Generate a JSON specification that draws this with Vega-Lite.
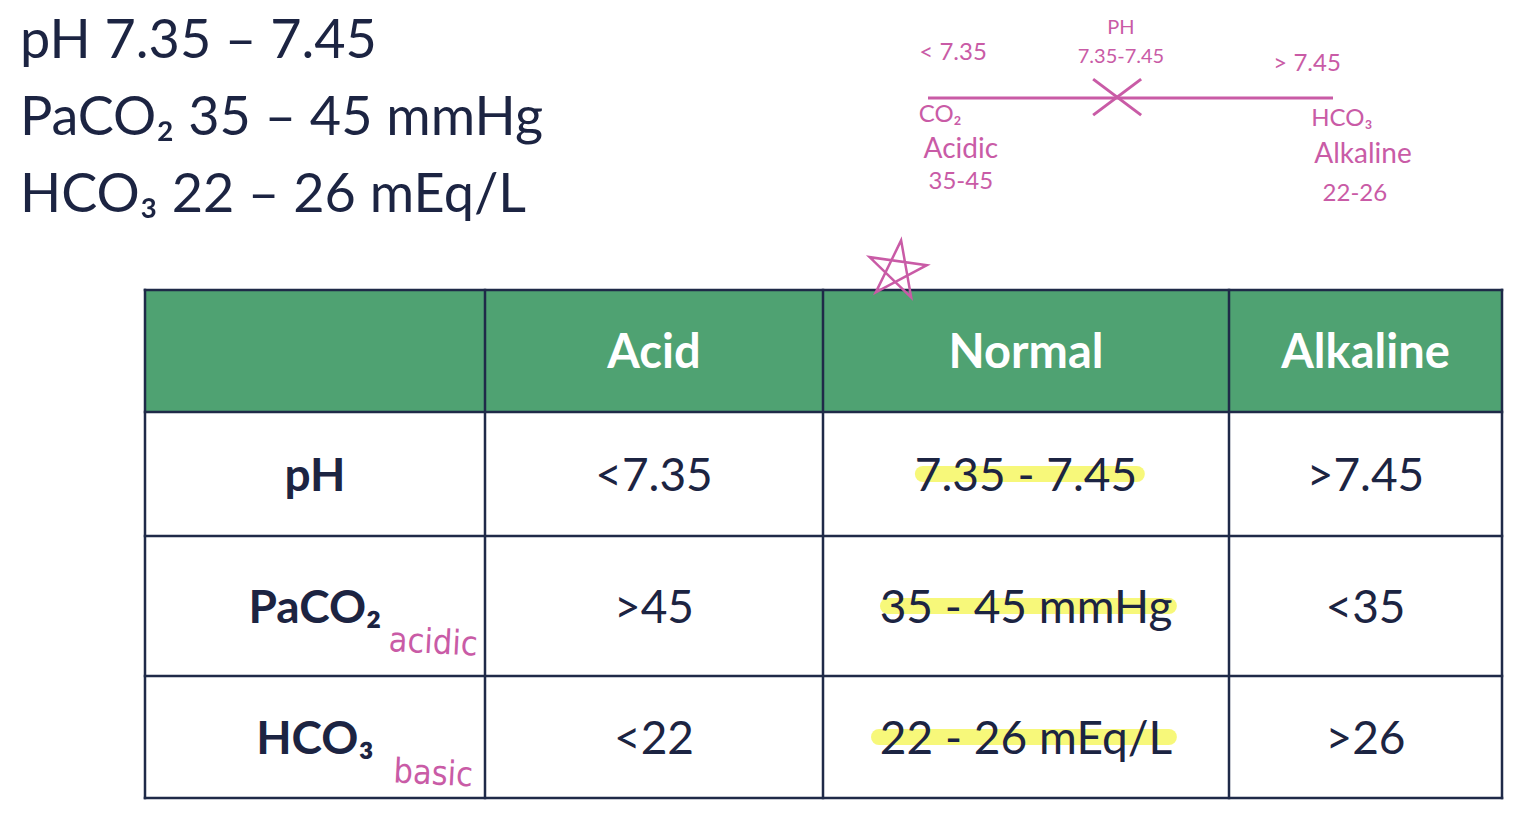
{
  "$schema": "https://vega.github.io/schema/vega-lite/v6.json",
  "width": 1538,
  "height": 833,
  "autosize": {"type": "none"},
  "padding": 0,
  "background": "white",
  "config": {"view": {"stroke": null}, "font": "Lato"},
  "datasets": {
    "cells": [
      {"row": 0, "col": 1, "part": "header", "text": "Acid"},
      {"row": 0, "col": 2, "part": "header", "text": "Normal"},
      {"row": 0, "col": 3, "part": "header", "text": "Alkaline"},
      {"row": 1, "col": 0, "part": "label", "text": "pH"},
      {"row": 1, "col": 1, "part": "value", "text": "<7.35"},
      {"row": 1, "col": 2, "part": "value", "text": "7.35 - 7.45"},
      {"row": 1, "col": 3, "part": "value", "text": ">7.45"},
      {"row": 2, "col": 0, "part": "label", "text": "PaCO₂"},
      {"row": 2, "col": 1, "part": "value", "text": ">45"},
      {"row": 2, "col": 2, "part": "value", "text": "35 - 45 mmHg"},
      {"row": 2, "col": 3, "part": "value", "text": "<35"},
      {"row": 3, "col": 0, "part": "label", "text": "HCO₃"},
      {"row": 3, "col": 1, "part": "value", "text": "<22"},
      {"row": 3, "col": 2, "part": "value", "text": "22 - 26 mEq/L"},
      {"row": 3, "col": 3, "part": "value", "text": ">26"}
    ],
    "edges": [{"edge": -0.5}, {"edge": 0.5}, {"edge": 1.5}, {"edge": 2.5}, {"edge": 3.5}],
    "highlights": [
      {"row": 1, "from": 1.746, "to": 2.273},
      {"row": 2, "from": 1.66, "to": 2.352},
      {"row": 3, "from": 1.638, "to": 2.352}
    ],
    "notes": [
      {"row": 2, "col": 0, "note": "acidic"},
      {"row": 3, "col": 0, "note": "basic"}
    ],
    "stars": [{"col": 1.682, "row": -0.66}],
    "ranges": [
      {"line": 0, "text": "pH 7.35 – 7.45"},
      {"line": 1, "text": "PaCO₂ 35 – 45 mmHg"},
      {"line": 2, "text": "HCO₃ 22 – 26 mEq/L"}
    ],
    "sketchText": [
      {"label": "PH", "f": 0.4765, "s": -2.33, "hand": "s"},
      {"label": "7.35-7.45", "f": 0.4765, "s": -1.37, "hand": "s"},
      {"label": "< 7.35", "f": 0.062, "s": -1.5, "hand": "m"},
      {"label": "> 7.45", "f": 0.936, "s": -1.13, "hand": "m"},
      {"label": "CO₂", "f": 0.03, "s": 0.55, "hand": "m"},
      {"label": "Acidic", "f": 0.081, "s": 1.72, "hand": "l"},
      {"label": "35-45", "f": 0.081, "s": 2.8, "hand": "m"},
      {"label": "HCO₃", "f": 1.022, "s": 0.7, "hand": "m"},
      {"label": "Alkaline", "f": 1.074, "s": 1.9, "hand": "l"},
      {"label": "22-26", "f": 1.054, "s": 3.2, "hand": "m"}
    ],
    "sketchMarks": [{"f": 0.467, "s": -0.03}]
  },
  "layer": [
    {
      "layer": [
        {
          "data": {"values": [{"band": "header"}]},
          "mark": {"type": "rect", "fill": "#4fa272"},
          "encoding": {
            "x": {"datum": -0.5, "type": "quantitative", "axis": null, "scale": {"type": "linear", "domain": [-0.5, 0.5, 1.5, 2.5, 3.5], "range": [145, 485, 823, 1229, 1502], "zero": false, "nice": false}},
            "x2": {"datum": 3.5},
            "y": {"datum": -0.5, "type": "quantitative", "axis": null, "scale": {"type": "linear", "domain": [-0.5, 0.5, 1.5, 2.5, 3.5], "range": [290, 412, 536, 676, 798], "zero": false, "nice": false}},
            "y2": {"datum": 0.5}
          }
        },
        {
          "data": {"name": "highlights"},
          "mark": {"type": "rule", "stroke": "#f6f76b", "strokeWidth": 16, "strokeCap": "round", "opacity": 0.9},
          "encoding": {
            "x": {"field": "from", "type": "quantitative"},
            "x2": {"field": "to"},
            "y": {"field": "row", "type": "quantitative"}
          }
        },
        {
          "data": {"name": "edges"},
          "mark": {"type": "rule", "stroke": "#1f2a48", "strokeWidth": 2.5, "strokeCap": "square"},
          "encoding": {
            "x": {"field": "edge", "type": "quantitative"},
            "y": {"datum": -0.5, "type": "quantitative"},
            "y2": {"datum": 3.5}
          }
        },
        {
          "data": {"name": "edges"},
          "mark": {"type": "rule", "stroke": "#1f2a48", "strokeWidth": 2.5, "strokeCap": "square"},
          "encoding": {
            "y": {"field": "edge", "type": "quantitative"},
            "x": {"datum": -0.5, "type": "quantitative"},
            "x2": {"datum": 3.5}
          }
        },
        {
          "data": {"name": "cells"},
          "transform": [{"filter": "datum.part === 'header'"}],
          "mark": {"type": "text", "font": "Lato", "fontWeight": "bold", "fontSize": 47, "color": "#ffffff", "align": "center", "baseline": "middle", "dy": 3},
          "encoding": {
            "x": {"field": "col", "type": "quantitative"},
            "y": {"field": "row", "type": "quantitative"},
            "text": {"field": "text"}
          }
        },
        {
          "data": {"name": "cells"},
          "transform": [{"filter": "datum.part === 'label'"}],
          "mark": {"type": "text", "font": "Lato", "fontWeight": "bold", "fontSize": 46, "color": "#1c2442", "align": "center", "baseline": "middle", "dy": 3},
          "encoding": {
            "x": {"field": "col", "type": "quantitative"},
            "y": {"field": "row", "type": "quantitative"},
            "text": {"field": "text"}
          }
        },
        {
          "data": {"name": "cells"},
          "transform": [{"filter": "datum.part === 'value'"}],
          "mark": {"type": "text", "font": "Lato", "fontSize": 46, "color": "#1c2442", "align": "center", "baseline": "middle", "dy": 3},
          "encoding": {
            "x": {"field": "col", "type": "quantitative"},
            "y": {"field": "row", "type": "quantitative"},
            "text": {"field": "text"}
          }
        },
        {
          "data": {"name": "notes"},
          "mark": {"type": "text", "font": "Liberation Sans Narrow, DejaVu Sans Condensed, Lato", "fontSize": 34, "color": "#c95ba6", "align": "center", "baseline": "middle", "dx": 120, "dy": 31, "angle": 3},
          "encoding": {
            "x": {"field": "col", "type": "quantitative"},
            "y": {"field": "row", "type": "quantitative"},
            "text": {"field": "note"}
          }
        },
        {
          "data": {"name": "stars"},
          "mark": {"type": "point", "shape": "M0,-1L0.588,0.809L-0.951,-0.309L0.951,-0.309L-0.588,0.809Z", "size": 3700, "filled": false, "stroke": "#c95ba6", "strokeWidth": 2.5, "opacity": 1, "angle": 8},
          "encoding": {
            "x": {"field": "col", "type": "quantitative"},
            "y": {"field": "row", "type": "quantitative"}
          }
        }
      ]
    },
    {
      "data": {"name": "ranges"},
      "mark": {"type": "text", "font": "Lato", "fontSize": 54, "color": "#1c2442", "align": "left", "baseline": "middle"},
      "encoding": {
        "x": {"datum": 0, "type": "quantitative", "axis": null, "scale": {"domain": [0, 1], "range": [20, 1538], "zero": false, "nice": false}},
        "y": {"field": "line", "type": "quantitative", "axis": null, "scale": {"domain": [0, 2], "range": [42, 196], "zero": false, "nice": false}},
        "text": {"field": "text"}
      }
    },
    {
      "layer": [
        {
          "data": {"values": [{"part": "line"}]},
          "mark": {"type": "rule", "stroke": "#c95ba6", "strokeWidth": 3},
          "encoding": {
            "x": {"datum": 0, "type": "quantitative", "axis": null, "scale": {"domain": [0, 1], "range": [928, 1333], "zero": false, "nice": false}},
            "x2": {"datum": 1},
            "y": {"datum": 0, "type": "quantitative", "axis": null, "scale": {"domain": [0, 1], "range": [98, 128], "zero": false, "nice": false}}
          }
        },
        {
          "data": {"name": "sketchMarks"},
          "mark": {"type": "point", "shape": "M-1,-0.75L1,0.75M-1,0.75L1,-0.75", "size": 2304, "filled": false, "stroke": "#c95ba6", "strokeWidth": 3, "opacity": 1},
          "encoding": {
            "x": {"field": "f", "type": "quantitative"},
            "y": {"field": "s", "type": "quantitative"}
          }
        },
        {
          "data": {"name": "sketchText"},
          "mark": {"type": "text", "font": "Lato", "color": "#c95ba6", "align": "center", "baseline": "middle"},
          "encoding": {
            "x": {"field": "f", "type": "quantitative"},
            "y": {"field": "s", "type": "quantitative"},
            "text": {"field": "label"},
            "size": {"field": "hand", "type": "ordinal", "scale": {"domain": ["s", "m", "l"], "range": [20, 28, 36]}, "legend": null}
          }
        }
      ]
    }
  ],
  "resolve": {"scale": {"x": "independent", "y": "independent", "size": "independent"}}
}
